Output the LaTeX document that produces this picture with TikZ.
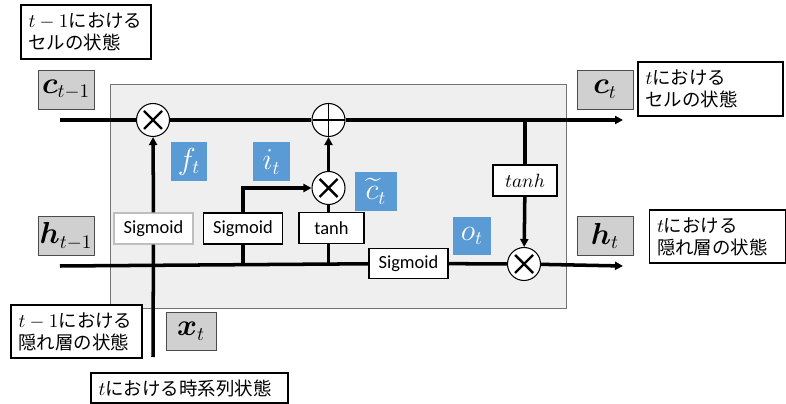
\documentclass[tikz,border=0pt]{standalone}
\usepackage{amsmath,amssymb,bm}
\usepackage{fontspec}
\setmainfont{Carlito}
\newfontfamily\jpfont{Noto Sans CJK JP}
\usetikzlibrary{arrows.meta}
\usepackage{xcolor}
\definecolor{panelgray}{HTML}{EFEFEF}
\definecolor{gateblue}{HTML}{5B9BD5}
\definecolor{termgray}{HTML}{D0D0D0}

\begin{document}
\begin{tikzpicture}[x=0.02cm,y=-0.02cm,>={Triangle[length=1.6mm,width=1.6mm]},
  flow/.style={line width=2pt},
  term/.style={draw=black!70,fill=termgray,minimum width=1.12cm,minimum height=0.78cm,inner sep=0pt,font=\fontsize{16}{18}\selectfont},
  gate/.style={fill=gateblue,text=white,minimum width=0.74cm,minimum height=0.78cm,inner sep=0pt,font=\fontsize{16}{18}\selectfont},
  func/.style={draw,line width=0.8pt,fill=white,minimum width=1.58cm,minimum height=0.62cm,inner sep=0pt,font=\fontsize{10.5}{12}\selectfont},
  op/.style={draw,line width=0.6pt,fill=white,circle,minimum size=0.66cm,inner sep=0pt},
  mul/.style={op,path picture={\draw[line width=1.4pt] (path picture bounding box.center)
      +(-9,-9) -- +(9,9) +(-9,9) -- +(9,-9);}},
  add/.style={op,path picture={\draw[line width=1.1pt] (path picture bounding box.center)
      +(-16,0) -- +(16,0) +(0,-16) -- +(0,16);}},
  note/.style={draw,line width=0.8pt,fill=white,align=left,inner xsep=0.15cm,inner ysep=0pt,
      text width=#1,minimum height=1.08cm,font=\jpfont\fontsize{10.5}{12.5}\selectfont}]
\useasboundingbox (0,0) rectangle (786,404);

% LSTM cell
\draw[draw=black!55,fill=panelgray] (110,84) rectangle (566,308);

\coordinate (cin) at (60,120);
\coordinate (cout) at (623,120);
\coordinate (hin) at (60,266);
\coordinate (hout) at (623,266);
\coordinate (xbot) at (153,357);

% inputs and outputs
\node[term] (cprev) at (66,89.5) {$\bm{c}_{t-1}$};
\node[term] (cnext) at (605,89.5) {$\bm{c}_t$};
\node[term] (hprev) at (66,236) {$\bm{h}_{t-1}$};
\node[term] (hnext) at (605,236) {$\bm{h}_t$};
\node[term,minimum width=1.0cm,minimum height=0.76cm] (xin) at (191,331) {$\bm{x}_t$};

% operations
\node[mul] (fmul) at (153,120) {};
\node[add] (cadd) at (328.5,120) {};
\node[mul] (imul) at (328.5,188) {};
\node[mul] (omul) at (524,264) {};

% activations
\node[func,draw=black!25] (fsig) at (153.5,228.5) {Sigmoid};
\node[func] (isig) at (243,228.5) {Sigmoid};
\node[func,minimum width=1.3cm] (ctanh) at (331.5,228) {tanh};
\node[func,minimum height=0.6cm] (osig) at (408.5,263.5) {Sigmoid};
\node[func,minimum width=1.28cm] (htanh) at (525,180.5) {$tanh$};

% gates
\node[gate,minimum width=0.72cm] (fgate) at (189,161.5) {$f_t$};
\node[gate] (igate) at (271.5,162) {$i_t$};
\node[gate,minimum width=0.83cm] (cgate) at (376,191.5) {$\widetilde{c}_t$};
\node[gate,minimum width=0.75cm] (ogate) at (472,236) {$o_t$};

% flows
\draw[flow] (cin) -- (fmul);
\draw[flow] (fmul) -- (cadd);
\draw[flow,->] (cadd) -- (cout);
\draw[flow] (hin) -- (osig);
\draw[flow] (osig) -- (omul);
\draw[flow,->] (omul) -- (hout);
\draw[flow] (xbot) -- (fsig);
\draw[flow,->] (fsig) -- (fmul);
\draw[flow] (isig.south) -- (isig.south |- hin);
\draw[flow,->] (isig) |- (imul);
\draw[flow] (imul |- ctanh.north) -- (imul);
\draw[flow] (imul |- ctanh.south) -- (imul |- hin);
\draw[flow,->] (imul) -- (cadd);
\draw[flow] (htanh |- cin) -- (htanh);
\draw[flow,->] (htanh) -- (omul);

% notes
\node[note=2.3cm] (cprevnote) at (86,32) {$t-1$における\\セルの状態};
\node[note=2.6cm] (cnextnote) at (710.5,89) {$t$における\\セルの状態};
\node[note=2.42cm,minimum height=1.06cm] (hnextnote) at (717.5,236.5) {$t$における\\隠れ層の状態};
\node[note=2.32cm,minimum height=1.06cm] (hprevnote) at (76.5,331.5) {$t-1$における\\隠れ層の状態};
\node[note=3.64cm,minimum height=0.6cm] (xinnote) at (189.5,388) {$t$における時系列状態};
\end{tikzpicture}
\end{document}
